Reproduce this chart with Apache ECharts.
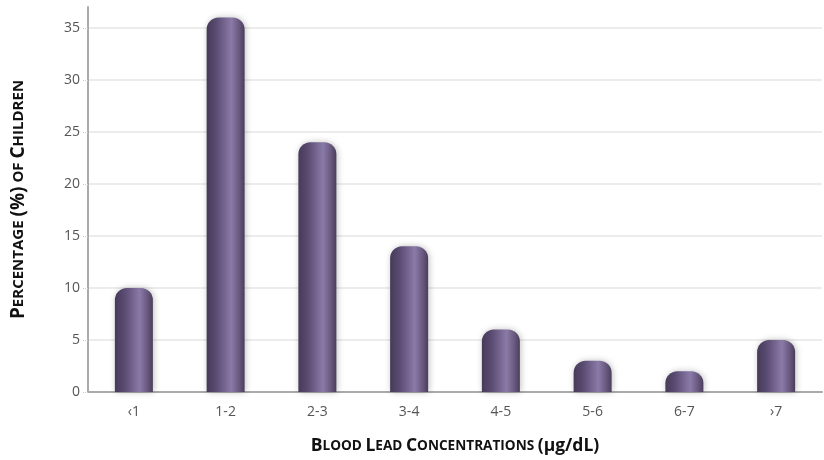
<!DOCTYPE html>
<html><head><meta charset="utf-8">
<script src="https://cdn.jsdelivr.net/npm/echarts@6/dist/echarts.min.js"></script>
<style>html,body{margin:0;padding:0;background:#fff}#c{width:824px;height:460px}</style>
</head><body><div id="c"></div>
<script>
const categories = ['‹1', '1-2', '2-3', '3-4', '4-5', '5-6', '6-7', '›7'];
const percentages = [10, 36, 24, 14, 6, 3, 2, 5];
const yTicks = [0, 5, 10, 15, 20, 25, 30, 35];

const FONT = '"Open Sans", "Noto Sans", sans-serif';
const chart = echarts.init(document.getElementById('c'), null, {renderer: 'canvas'});
const barGrad = new echarts.graphic.LinearGradient(0, 0, 1, 0, [
  {offset: 0, color: '#463a58'},
  {offset: 0.25, color: '#5a4b72'},
  {offset: 0.65, color: '#8a7aa8'},
  {offset: 0.85, color: '#6a5a80'},
  {offset: 1, color: '#4a3e5a'}
]);
function richSet(big, small) {
  return {
    b: {fontFamily: FONT, fontSize: big, fontWeight: 'bold', color: '#111'},
    s: {fontFamily: FONT, fontSize: small, fontWeight: 'bold', color: '#111'},
    n: {fontFamily: FONT, fontSize: big, fontWeight: 'bold', color: '#111'},
    w: {fontFamily: FONT, fontSize: small, fontWeight: 'bold', color: '#111'}
  };
}
chart.setOption({
  animation: false,
  backgroundColor: '#fff',
  grid: {left: 88, right: 2, top: 7, bottom: 67},
  xAxis: {
    type: 'category',
    data: categories,
    axisLine: {lineStyle: {color: '#aaaaaa', width: 2}},
    axisTick: {show: false},
    axisLabel: {color: '#555', fontFamily: FONT, fontSize: 14, margin: 13},
    name: '{b|B}{s|LOOD}{w| }{b|L}{s|EAD}{w| }{b|C}{s|ONCENTRATIONS}{w| }{n|(µg/dL)}',
    nameLocation: 'middle',
    nameGap: 45,
    nameTextStyle: {rich: richSet(17.5, 13.6)}
  },
  yAxis: {
    type: 'value',
    min: 0, max: 37, interval: 5,
    axisLine: {show: true, lineStyle: {color: '#aaaaaa', width: 2}},
    axisTick: {show: true, length: 5, lineStyle: {color: '#cccccc', type: 'dotted'}},
    axisLabel: {color: '#555', fontFamily: FONT, fontSize: 14, margin: 8, showMaxLabel: false,
      formatter: v => yTicks.includes(v) ? String(v) : ''},
    splitLine: {show: true, showMaxLine: false, lineStyle: {color: '#ececec', width: 2}},
    name: '{b|P}{s|ERCENTAGE}{w| }{n|(%)}{w| }{s|OF}{w| }{b|C}{s|HILDREN}',
    nameLocation: 'middle',
    nameGap: 60,
    nameTextStyle: {rich: richSet(19, 15)}
  },
  series: [{
    type: 'bar',
    data: percentages,
    barWidth: 38,
    itemStyle: {
      color: barGrad,
      borderRadius: [12, 12, 0, 0],
      shadowBlur: 6,
      shadowColor: 'rgba(0,0,0,0.25)',
      shadowOffsetX: 1
    }
  }]
});
</script>
</body></html>
